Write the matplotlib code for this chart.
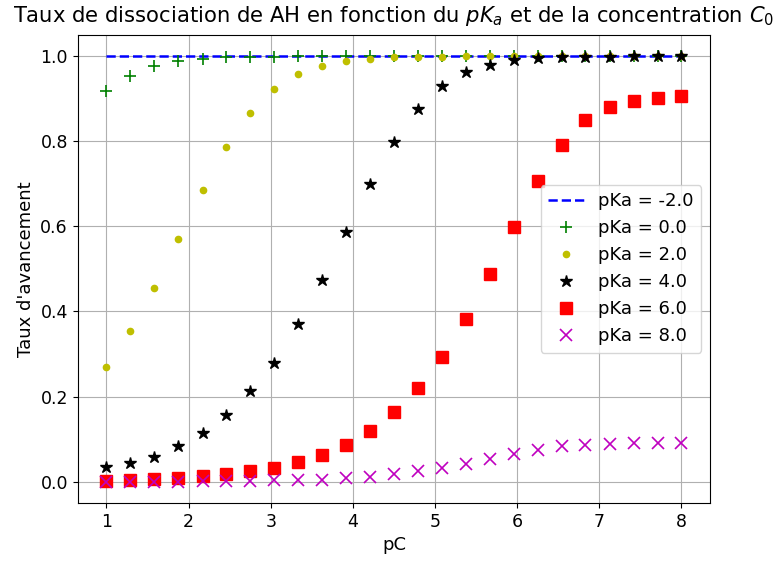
import matplotlib
matplotlib.use('Agg')
import matplotlib.pyplot as plt

pc = [1.0, 1.29, 1.58, 1.875, 2.17, 2.46, 2.75, 3.04, 3.33, 3.625, 3.92, 4.21,
      4.5, 4.79, 5.08, 5.375, 5.67, 5.96, 6.25, 6.54, 6.83, 7.125, 7.42, 7.71, 8.0]

alpha_m2 = [1.0] * 25
alpha_0 = [0.917, 0.954, 0.977, 0.989, 0.994, 0.997, 0.998, 0.999, 1.0, 1.0,
           1.0, 1.0, 1.0, 1.0, 1.0, 1.0, 1.0, 1.0, 1.0, 1.0, 1.0, 1.0, 1.0, 1.0, 1.0]
alpha_2 = [0.270, 0.355, 0.456, 0.570, 0.685, 0.786, 0.867, 0.923, 0.959, 0.977,
           0.989, 0.994, 0.997, 0.998, 0.999, 1.0, 1.0, 1.0, 1.0, 1.0, 1.0, 1.0,
           1.0, 1.0, 1.0]
alpha_4 = [0.034, 0.045, 0.059, 0.083, 0.114, 0.156, 0.213, 0.280, 0.370, 0.475,
           0.586, 0.700, 0.798, 0.876, 0.930, 0.962, 0.980, 0.991, 0.996, 0.998,
           0.999, 0.999, 1.0, 1.0, 1.0]
alpha_6 = [0.002, 0.004, 0.006, 0.009, 0.013, 0.019, 0.025, 0.033, 0.046, 0.063,
           0.087, 0.119, 0.164, 0.221, 0.293, 0.382, 0.487, 0.599, 0.707, 0.791,
           0.850, 0.880, 0.894, 0.902, 0.906]
alpha_8 = [0.0, 0.0, 0.0, 0.0, 0.001, 0.001, 0.002, 0.003, 0.005, 0.005,
           0.008, 0.012, 0.018, 0.024, 0.032, 0.041, 0.053, 0.066, 0.074, 0.083,
           0.086, 0.089, 0.090, 0.090, 0.092]

plt.rcParams['font.size'] = 12.5

fig = plt.figure(figsize=(7.77, 5.62), dpi=100)
ax = fig.add_axes([0.100, 0.105, 0.814, 0.833])
ax.plot(pc, alpha_m2, 'b--', lw=1.8, label='pKa = -2.0')
ax.plot(pc, alpha_0, 'g+', ms=8, mew=1.2, label='pKa = 0.0')
ax.plot(pc, alpha_2, 'y.', ms=9, label='pKa = 2.0')
ax.plot(pc, alpha_4, 'k*', ms=9, label='pKa = 4.0')
ax.plot(pc, alpha_6, 'rs', ms=9, label='pKa = 6.0')
ax.plot(pc, alpha_8, 'mx', ms=8, mew=1.2, label='pKa = 8.0')
ax.set_title(r"Taux de dissociation de AH en fonction du $pK_a$ et de la concentration $C_0$",
             fontsize=15.2, pad=9)
ax.set_xlabel('pC', fontsize=13)
ax.set_ylabel("Taux d'avancement", fontsize=13)
ax.grid(True)
ax.legend(loc='center right', fontsize=13)
fig.savefig('out.png', dpi=100)
